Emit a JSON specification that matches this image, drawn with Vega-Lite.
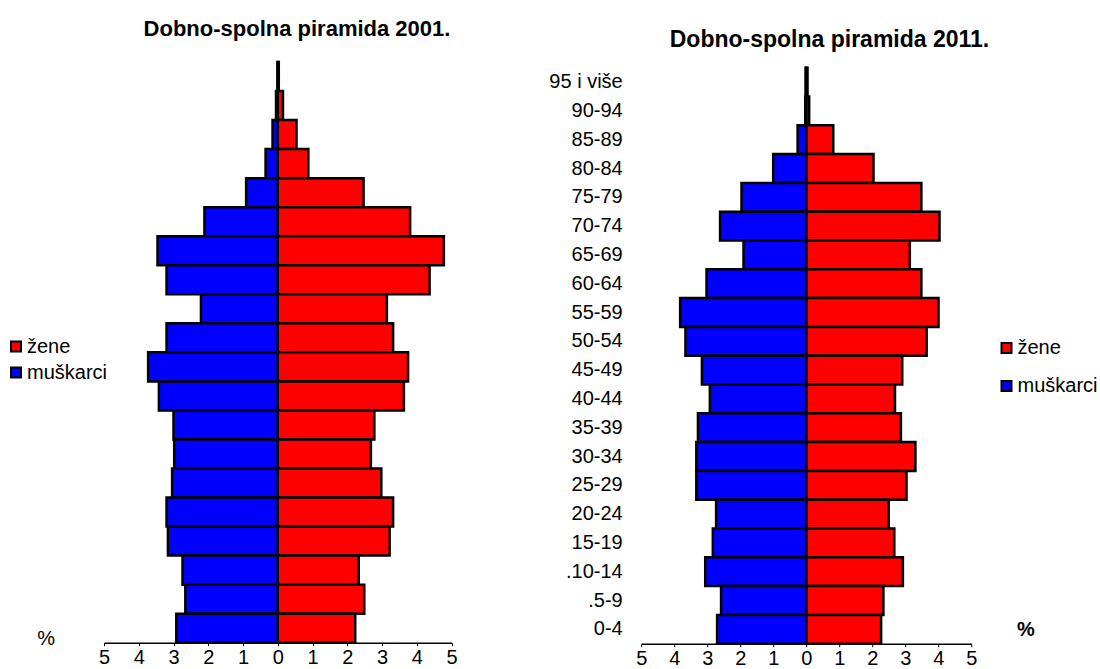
{
  "$schema": "https://vega.github.io/schema/vega-lite/v6.json",
  "background": "white",
  "padding": {"left": 6, "top": 17, "right": 0, "bottom": 0},
  "config": {"font": "Liberation Sans", "view": {"stroke": null}},
  "datasets": {
    "pop": [
      {"godina": 2001, "dob": "95 i više", "spol": "žene", "postotak": 0.03},
      {"godina": 2001, "dob": "95 i više", "spol": "muškarci", "postotak": -0.01},
      {"godina": 2001, "dob": "90-94", "spol": "žene", "postotak": 0.15},
      {"godina": 2001, "dob": "90-94", "spol": "muškarci", "postotak": -0.05},
      {"godina": 2001, "dob": "85-89", "spol": "žene", "postotak": 0.54},
      {"godina": 2001, "dob": "85-89", "spol": "muškarci", "postotak": -0.15},
      {"godina": 2001, "dob": "80-84", "spol": "žene", "postotak": 0.88},
      {"godina": 2001, "dob": "80-84", "spol": "muškarci", "postotak": -0.35},
      {"godina": 2001, "dob": "75-79", "spol": "žene", "postotak": 2.47},
      {"godina": 2001, "dob": "75-79", "spol": "muškarci", "postotak": -0.91},
      {"godina": 2001, "dob": "70-74", "spol": "žene", "postotak": 3.81},
      {"godina": 2001, "dob": "70-74", "spol": "muškarci", "postotak": -2.11},
      {"godina": 2001, "dob": "65-69", "spol": "žene", "postotak": 4.78},
      {"godina": 2001, "dob": "65-69", "spol": "muškarci", "postotak": -3.46},
      {"godina": 2001, "dob": "60-64", "spol": "žene", "postotak": 4.37},
      {"godina": 2001, "dob": "60-64", "spol": "muškarci", "postotak": -3.2},
      {"godina": 2001, "dob": "55-59", "spol": "žene", "postotak": 3.14},
      {"godina": 2001, "dob": "55-59", "spol": "muškarci", "postotak": -2.21},
      {"godina": 2001, "dob": "50-54", "spol": "žene", "postotak": 3.32},
      {"godina": 2001, "dob": "50-54", "spol": "muškarci", "postotak": -3.2},
      {"godina": 2001, "dob": "45-49", "spol": "žene", "postotak": 3.75},
      {"godina": 2001, "dob": "45-49", "spol": "muškarci", "postotak": -3.73},
      {"godina": 2001, "dob": "40-44", "spol": "žene", "postotak": 3.63},
      {"godina": 2001, "dob": "40-44", "spol": "muškarci", "postotak": -3.42},
      {"godina": 2001, "dob": "35-39", "spol": "žene", "postotak": 2.78},
      {"godina": 2001, "dob": "35-39", "spol": "muškarci", "postotak": -3.0},
      {"godina": 2001, "dob": "30-34", "spol": "žene", "postotak": 2.68},
      {"godina": 2001, "dob": "30-34", "spol": "muškarci", "postotak": -2.98},
      {"godina": 2001, "dob": "25-29", "spol": "žene", "postotak": 2.98},
      {"godina": 2001, "dob": "25-29", "spol": "muškarci", "postotak": -3.04},
      {"godina": 2001, "dob": "20-24", "spol": "žene", "postotak": 3.32},
      {"godina": 2001, "dob": "20-24", "spol": "muškarci", "postotak": -3.2},
      {"godina": 2001, "dob": "15-19", "spol": "žene", "postotak": 3.22},
      {"godina": 2001, "dob": "15-19", "spol": "muškarci", "postotak": -3.16},
      {"godina": 2001, "dob": ".10-14", "spol": "žene", "postotak": 2.33},
      {"godina": 2001, "dob": ".10-14", "spol": "muškarci", "postotak": -2.74},
      {"godina": 2001, "dob": ".5-9", "spol": "žene", "postotak": 2.49},
      {"godina": 2001, "dob": ".5-9", "spol": "muškarci", "postotak": -2.66},
      {"godina": 2001, "dob": "0-4", "spol": "žene", "postotak": 2.23},
      {"godina": 2001, "dob": "0-4", "spol": "muškarci", "postotak": -2.92},
      {"godina": 2011, "dob": "95 i više", "spol": "žene", "postotak": 0.04},
      {"godina": 2011, "dob": "95 i više", "spol": "muškarci", "postotak": -0.02},
      {"godina": 2011, "dob": "90-94", "spol": "žene", "postotak": 0.09},
      {"godina": 2011, "dob": "90-94", "spol": "muškarci", "postotak": -0.03},
      {"godina": 2011, "dob": "85-89", "spol": "žene", "postotak": 0.82},
      {"godina": 2011, "dob": "85-89", "spol": "muškarci", "postotak": -0.26},
      {"godina": 2011, "dob": "80-84", "spol": "žene", "postotak": 2.04},
      {"godina": 2011, "dob": "80-84", "spol": "muškarci", "postotak": -1.0},
      {"godina": 2011, "dob": "75-79", "spol": "žene", "postotak": 3.49},
      {"godina": 2011, "dob": "75-79", "spol": "muškarci", "postotak": -1.96},
      {"godina": 2011, "dob": "70-74", "spol": "žene", "postotak": 4.04},
      {"godina": 2011, "dob": "70-74", "spol": "muškarci", "postotak": -2.61},
      {"godina": 2011, "dob": "65-69", "spol": "žene", "postotak": 3.14},
      {"godina": 2011, "dob": "65-69", "spol": "muškarci", "postotak": -1.9},
      {"godina": 2011, "dob": "60-64", "spol": "žene", "postotak": 3.49},
      {"godina": 2011, "dob": "60-64", "spol": "muškarci", "postotak": -3.02},
      {"godina": 2011, "dob": "55-59", "spol": "žene", "postotak": 4.01},
      {"godina": 2011, "dob": "55-59", "spol": "muškarci", "postotak": -3.82},
      {"godina": 2011, "dob": "50-54", "spol": "žene", "postotak": 3.65},
      {"godina": 2011, "dob": "50-54", "spol": "muškarci", "postotak": -3.66},
      {"godina": 2011, "dob": "45-49", "spol": "žene", "postotak": 2.91},
      {"godina": 2011, "dob": "45-49", "spol": "muškarci", "postotak": -3.16},
      {"godina": 2011, "dob": "40-44", "spol": "žene", "postotak": 2.69},
      {"godina": 2011, "dob": "40-44", "spol": "muškarci", "postotak": -2.92},
      {"godina": 2011, "dob": "35-39", "spol": "žene", "postotak": 2.87},
      {"godina": 2011, "dob": "35-39", "spol": "muškarci", "postotak": -3.28},
      {"godina": 2011, "dob": "30-34", "spol": "žene", "postotak": 3.31},
      {"godina": 2011, "dob": "30-34", "spol": "muškarci", "postotak": -3.33},
      {"godina": 2011, "dob": "25-29", "spol": "žene", "postotak": 3.04},
      {"godina": 2011, "dob": "25-29", "spol": "muškarci", "postotak": -3.33},
      {"godina": 2011, "dob": "20-24", "spol": "žene", "postotak": 2.5},
      {"godina": 2011, "dob": "20-24", "spol": "muškarci", "postotak": -2.73},
      {"godina": 2011, "dob": "15-19", "spol": "žene", "postotak": 2.67},
      {"godina": 2011, "dob": "15-19", "spol": "muškarci", "postotak": -2.83},
      {"godina": 2011, "dob": ".10-14", "spol": "žene", "postotak": 2.93},
      {"godina": 2011, "dob": ".10-14", "spol": "muškarci", "postotak": -3.06},
      {"godina": 2011, "dob": ".5-9", "spol": "žene", "postotak": 2.34},
      {"godina": 2011, "dob": ".5-9", "spol": "muškarci", "postotak": -2.58},
      {"godina": 2011, "dob": "0-4", "spol": "žene", "postotak": 2.27},
      {"godina": 2011, "dob": "0-4", "spol": "muškarci", "postotak": -2.7}
    ]
  },
  "data": {"name": "pop"},
  "bounds": "flush",
  "spacing": 189.2,
  "resolve": {
    "scale": {"x": "independent", "y": "independent", "color": "independent"},
    "legend": {"color": "independent"}
  },
  "hconcat": [
    {
      "width": 347.5,
      "height": 580.7,
      "title": {"text": "Dobno-spolna piramida 2001.", "fontSize": 22, "fontWeight": "bold", "color": "black", "frame": "group", "anchor": "middle", "dx": 19.25, "offset": 3, "baseline": "alphabetic"},
      "transform": [{"filter": "datum.godina == 2001"}],
      "mark": {"type": "bar", "stroke": "black", "strokeWidth": 2.5},
      "encoding": {
        "y": {
          "field": "dob", "type": "nominal",
          "sort": ["95 i više", "90-94", "85-89", "80-84", "75-79", "70-74", "65-69", "60-64", "55-59", "50-54", "45-49", "40-44", "35-39", "30-34", "25-29", "20-24", "15-19", ".10-14", ".5-9", "0-4"],
          "scale": {"paddingInner": 0, "paddingOuter": 0},
          "axis": null
        },
        "x": {
          "field": "postotak", "type": "quantitative", "stack": null,
          "scale": {"domain": [-5, 5], "nice": false, "zero": false},
          "axis": {
            "values": [-5, -4, -3, -2, -1, 0, 1, 2, 3, 4, 5],
            "labelExpr": "abs(datum.value)",
            "grid": false, "domainColor": "black", "domainWidth": 1.5,
            "tickColor": "black", "tickSize": 3, "tickWidth": 1,
            "labelFontSize": 20, "labelColor": "black", "labelPadding": 2,
            "labelFlush": false, "labelOverlap": false,
            "title": "%", "titleX": -58.3, "titleY": -4.2, "titleAlign": "center", "titleBaseline": "middle",
            "titleFontSize": 20, "titleFontWeight": "normal", "titleColor": "black"
          }
        },
        "color": {
          "field": "spol", "type": "nominal",
          "scale": {"domain": ["žene", "muškarci"], "range": ["#FF0000", "#0000FF"]},
          "legend": {
            "title": null, "orient": "none", "legendX": -98, "legendY": 274.5,
            "symbolType": "square", "symbolSize": 100, "symbolStrokeColor": "black", "symbolStrokeWidth": 2,
            "labelFontSize": 20, "labelColor": "black", "labelOffset": 1, "rowPadding": 6, "padding": 0
          }
        }
      }
    },
    {
      "width": 330,
      "height": 581.7,
      "title": {"text": "Dobno-spolna piramida 2011.", "fontSize": 23, "fontWeight": "bold", "color": "black", "frame": "group", "anchor": "middle", "dx": 23.3, "offset": -8, "baseline": "alphabetic"},
      "transform": [{"filter": "datum.godina == 2011"}],
      "mark": {"type": "bar", "stroke": "black", "strokeWidth": 2.5},
      "encoding": {
        "y": {
          "field": "dob", "type": "nominal",
          "sort": ["95 i više", "90-94", "85-89", "80-84", "75-79", "70-74", "65-69", "60-64", "55-59", "50-54", "45-49", "40-44", "35-39", "30-34", "25-29", "20-24", "15-19", ".10-14", ".5-9", "0-4"],
          "scale": {"paddingInner": 0, "paddingOuter": 0.099, "align": 1},
          "axis": {"title": null, "ticks": false, "domain": false, "grid": false, "labelFontSize": 20, "labelColor": "black", "labelPadding": 19, "labelAlign": "right"}
        },
        "x": {
          "field": "postotak", "type": "quantitative", "stack": null,
          "scale": {"domain": [-5, 5], "nice": false, "zero": false},
          "axis": {
            "values": [-5, -4, -3, -2, -1, 0, 1, 2, 3, 4, 5],
            "labelExpr": "abs(datum.value)",
            "grid": false, "domainColor": "black", "domainWidth": 1.5,
            "tickColor": "black", "tickSize": 3, "tickWidth": 1,
            "labelFontSize": 20, "labelColor": "black", "labelPadding": 2,
            "labelFlush": false, "labelOverlap": false,
            "title": "%", "titleX": 384.3, "titleY": -14.7, "titleAlign": "center", "titleBaseline": "middle",
            "titleFontSize": 20, "titleFontWeight": "bold", "titleColor": "black"
          }
        },
        "color": {
          "field": "spol", "type": "nominal",
          "scale": {"domain": ["žene", "muškarci"], "range": ["#FF0000", "#0000FF"]},
          "legend": {
            "title": null, "orient": "none", "legendX": 355.3, "legendY": 276,
            "symbolType": "square", "symbolSize": 100, "symbolStrokeColor": "black", "symbolStrokeWidth": 2,
            "labelFontSize": 20, "labelColor": "black", "labelOffset": 1, "rowPadding": 18, "padding": 0
          }
        }
      }
    }
  ]
}
